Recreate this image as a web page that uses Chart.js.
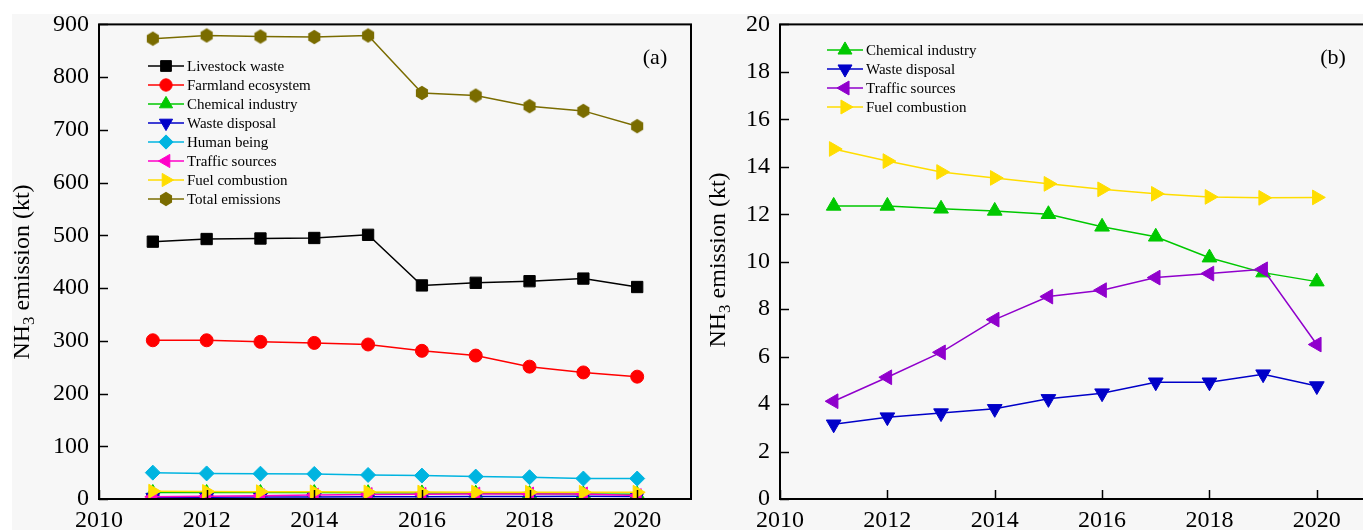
<!DOCTYPE html>
<html>
<head>
<meta charset="utf-8">
<script src="https://cdn.jsdelivr.net/npm/chart.js@4.4.1/dist/chart.umd.min.js"></script>
<style>
html, body { margin: 0; padding: 0; width: 1363px; height: 530px; overflow: hidden; background: #fff; }
#bg { position: absolute; left: 12px; top: 14px; right: 0; bottom: 0; background: #f7f7f7; }
canvas { position: absolute; top: 0; }
</style>
</head>
<body>
<div id="bg"></div>
<canvas id="chart-a" width="700" height="530" style="left:0"></canvas>
<canvas id="chart-b" width="680" height="530" style="left:700px"></canvas>
<script>
// values (kt)
var years = [2011, 2012, 2013, 2014, 2015, 2016, 2017, 2018, 2019, 2020];
var livestockWaste    = [488, 493, 494, 495, 501, 405, 410, 413, 418, 402];
var farmlandEcosystem = [301, 301, 298, 296, 293, 281, 272, 251, 240, 232];
var chemicalIndustry  = [12.35, 12.35, 12.23, 12.14, 12.0, 11.47, 11.05, 10.17, 9.54, 9.16];
var wasteDisposal     = [3.15, 3.45, 3.62, 3.8, 4.22, 4.46, 4.92, 4.92, 5.26, 4.76];
var humanBeing        = [50, 48.5, 48, 47.5, 45.6, 44.4, 42.5, 41.3, 38.8, 38.8];
var trafficSources    = [4.12, 5.13, 6.18, 7.56, 8.53, 8.8, 9.33, 9.5, 9.68, 6.51];
var fuelCombustion    = [14.75, 14.24, 13.78, 13.53, 13.28, 13.05, 12.86, 12.73, 12.69, 12.71];
var totalEmissions    = [873, 879, 877, 876, 879, 770, 765, 745, 736, 707];

var ticksA = { min: 0, max: 900, step: 100 };
var ticksB = { min: 0, max: 20, step: 2 };
var xTicks = { min: 2010, max: 2021, step: 2 };

var FONT = '"Liberation Serif", "Times New Roman", serif';

// hexagon marker for total emissions
function hexagon(color) {
  var c = document.createElement('canvas');
  c.width = 16; c.height = 16;
  var g = c.getContext('2d');
  g.fillStyle = color;
  g.beginPath();
  for (var k = 0; k < 6; k++) {
    var ang = Math.PI / 2 + k * Math.PI / 3;
    var px = 8 + 7 * Math.cos(ang), py = 8 - 7.2 * Math.sin(ang);
    if (k === 0) g.moveTo(px, py); else g.lineTo(px, py);
  }
  g.closePath();
  g.fill();
  return c;
}

function pts(vals) {
  return years.map(function (yr, i) { return { x: yr, y: vals[i] }; });
}

function series(label, vals, color, style, rotation, radius) {
  return {
    label: label,
    data: pts(vals),
    borderColor: color,
    backgroundColor: color,
    borderWidth: 1.5,
    pointStyle: style,
    pointRotation: rotation,
    pointRadius: radius,
    pointHoverRadius: radius,
    pointBorderWidth: 1,
    pointBorderColor: color,
    pointBackgroundColor: color,
    tension: 0
  };
}

// frame, inward ticks, title, panel label, legend
var decor = {
  id: 'decor',
  afterDatasetsDraw: function (chart, args, opts) {
    var ctx = chart.ctx, a = chart.chartArea;
    var xs = chart.scales.x, ys = chart.scales.y;
    ctx.save();
    ctx.strokeStyle = '#000';
    ctx.lineWidth = 1.5;
    ys.ticks.forEach(function (t) {
      var py = Math.round(ys.getPixelForValue(t.value)) + 0.5;
      ctx.beginPath(); ctx.moveTo(a.left, py); ctx.lineTo(a.left + 9, py); ctx.stroke();
    });
    xs.ticks.forEach(function (t) {
      var px = Math.round(xs.getPixelForValue(t.value)) + 0.5;
      ctx.beginPath(); ctx.moveTo(px, a.bottom); ctx.lineTo(px, a.bottom - 9); ctx.stroke();
    });
    ctx.lineWidth = 2;
    ctx.strokeRect(a.left, a.top, a.right - a.left, a.bottom - a.top);

    // y title with subscript
    ctx.fillStyle = '#000';
    ctx.textBaseline = 'alphabetic';
    ctx.textAlign = 'left';
    var big = '24px ' + FONT, small = '17px ' + FONT;
    ctx.font = big;
    var w1 = ctx.measureText('NH').width;
    var w3 = ctx.measureText(' emission (kt)').width;
    ctx.font = small;
    var w2 = ctx.measureText('3').width;
    var tw = w1 + w2 + w3;
    ctx.translate(opts.titleX, opts.titleY);
    ctx.rotate(-Math.PI / 2);
    ctx.font = big;
    ctx.fillText('NH', -tw / 2, 0);
    ctx.font = small;
    ctx.fillText('3', -tw / 2 + w1, 5);
    ctx.font = big;
    ctx.fillText(' emission (kt)', -tw / 2 + w1 + w2, 0);
    ctx.setTransform(1, 0, 0, 1, 0, 0);

    // panel label
    ctx.font = '22px ' + FONT;
    ctx.textAlign = 'center';
    ctx.textBaseline = 'middle';
    ctx.fillText(opts.panel, opts.panelX, opts.panelY);

    // legend
    ctx.textAlign = 'left';
    ctx.font = '15px ' + FONT;
    chart.data.datasets.forEach(function (ds, i) {
      var y = opts.legendY + i * 19;
      var x0 = opts.legendX;
      ctx.strokeStyle = ds.borderColor;
      ctx.lineWidth = 1.5;
      ctx.beginPath(); ctx.moveTo(x0, y); ctx.lineTo(x0 + 36, y); ctx.stroke();
      ctx.fillStyle = ds.backgroundColor;
      ctx.lineWidth = 1;
      Chart.helpers.drawPoint(ctx, {
        pointStyle: ds.pointStyle, rotation: ds.pointRotation,
        radius: ds.pointRadius * 0.95, borderWidth: 1
      }, x0 + 18, y);
      ctx.fillStyle = '#000';
      ctx.fillText(ds.label, x0 + 39, y + 1);
    });
    ctx.restore();
  }
};

function makeOptions(yt, yWidth, pad, deco) {
  return {
    responsive: false,
    animation: false,
    events: [],
    layout: { padding: pad },
    plugins: { legend: { display: false }, tooltip: { enabled: false }, decor: deco },
    scales: {
      x: {
        type: 'linear', min: xTicks.min, max: xTicks.max,
        grid: { display: false, drawTicks: false },
        border: { display: false },
        ticks: { stepSize: xTicks.step, includeBounds: false, padding: 7, color: '#000',
                 font: { family: FONT, size: 24 }, maxRotation: 0,
                 callback: function (v) { return String(v); } },
        afterFit: function (s) { s.height = 31; }
      },
      y: {
        min: yt.min, max: yt.max,
        grid: { display: false, drawTicks: false },
        border: { display: false },
        ticks: { stepSize: yt.step, padding: 10, color: '#000',
                 font: { family: FONT, size: 24 } },
        afterFit: function (s) { s.width = yWidth; }
      }
    }
  };
}

var dsA = [
  series('Livestock waste', livestockWaste, '#000000', 'rect', 0, 8),
  series('Farmland ecosystem', farmlandEcosystem, '#ff0000', 'circle', 0, 6.5),
  series('Chemical industry', chemicalIndustry, '#00c800', 'triangle', 0, 8),
  series('Waste disposal', wasteDisposal, '#0000c8', 'triangle', 180, 8),
  series('Human being', humanBeing, '#00b4e0', 'rectRot', 0, 7.5),
  series('Traffic sources', trafficSources, '#ff00c8', 'triangle', -90, 8),
  series('Fuel combustion', fuelCombustion, '#ffdd00', 'triangle', 90, 8),
  series('Total emissions', totalEmissions, '#7a6c00', hexagon('#7a6c00'), 0, 7)
];
dsA.forEach(function (d, i) { d.order = dsA.length - i; });

new Chart(document.getElementById('chart-a'), {
  type: 'line',
  data: { datasets: dsA },
  options: makeOptions(ticksA, 99, { left: 0, top: 23, right: 8, bottom: 0 },
    { titleX: 29, titleY: 272, panel: '(a)', panelX: 655, panelY: 58, legendX: 148, legendY: 66 }),
  plugins: [decor]
});

var dsB = [
  series('Chemical industry', chemicalIndustry, '#00c800', 'triangle', 0, 8.5),
  series('Waste disposal', wasteDisposal, '#0000c8', 'triangle', 180, 8.5),
  series('Traffic sources', trafficSources, '#9000cc', 'triangle', -90, 8.5),
  series('Fuel combustion', fuelCombustion, '#ffdd00', 'triangle', 90, 8.5)
];
dsB.forEach(function (d, i) { d.order = dsB.length - i; });

new Chart(document.getElementById('chart-b'), {
  type: 'line',
  data: { datasets: dsB },
  options: makeOptions(ticksB, 80, { left: 0, top: 23, right: 9, bottom: 0 },
    { titleX: 25, titleY: 260, panel: '(b)', panelX: 633, panelY: 58, legendX: 127, legendY: 50 }),
  plugins: [decor]
});
</script>
</body>
</html>
